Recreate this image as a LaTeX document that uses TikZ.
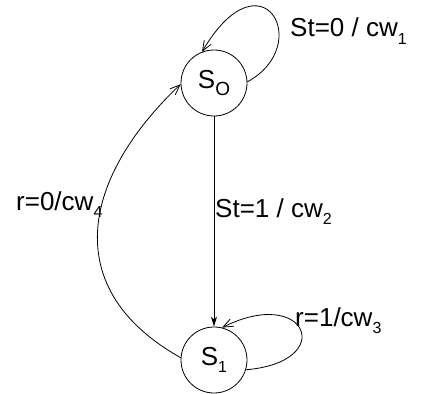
\documentclass[tikz,border=0pt]{standalone}
\usepackage{fontspec}
\setmainfont{Liberation Sans}
\usetikzlibrary{arrows.meta}
\newcommand\sbs[1]{\raisebox{-0.28em}{\fontsize{16}{16}\selectfont #1}}
\newcommand\sbO[1]{\raisebox{-0.25em}{\fontsize{19}{19}\selectfont #1}}
\tikzset{
  state/.style={draw, circle, minimum size=66pt, inner sep=0pt, line width=0.8pt, font=\fontsize{26}{26}\selectfont},
  lbl/.style={anchor=base west, inner sep=0pt, font=\fontsize{26}{26}\selectfont},
  edge/.style={line width=0.8pt},
  openarrow/.style={-{Straight Barb[length=10pt,width=8pt]}},
  filledarrow/.style={-{Stealth[length=10pt,width=6pt,inset=3pt]}}
}
\begin{document}
\begin{tikzpicture}[x=1pt,y=-1pt]
\useasboundingbox (0,0) rectangle (430,393);
\node[state] (s0) at (214,83) {S\sbO{O}};
\node[state] (s1) at (214,360) {S\sbs{1}};
% self loop on S0
\draw[edge,openarrow] (s0.2) .. controls (315,45) and (262,-50) .. (s0.111);
% S0 -> S1
\draw[edge,filledarrow] (s0.south) -- (s1.north);
% self loop on S1
\draw[edge,openarrow] (s1.-17) .. controls (338,362) and (307,285) .. (s1.76);
% S1 -> S0
\draw[edge,openarrow] (s1.176) .. controls (60,290) and (80,180) .. (s0.182);
% labels
\node[lbl] (l1) at (290,37) {St=0 / cw\sbs{1}};
\node[lbl] (l2) at (215,217) {St=1 / cw\sbs{2}};
\node[lbl] (l3) at (295,326) {r=1/cw\sbs{3}};
\node[lbl] (l4) at (16,210) {r=0/cw\sbs{4}};
\end{tikzpicture}
\end{document}
